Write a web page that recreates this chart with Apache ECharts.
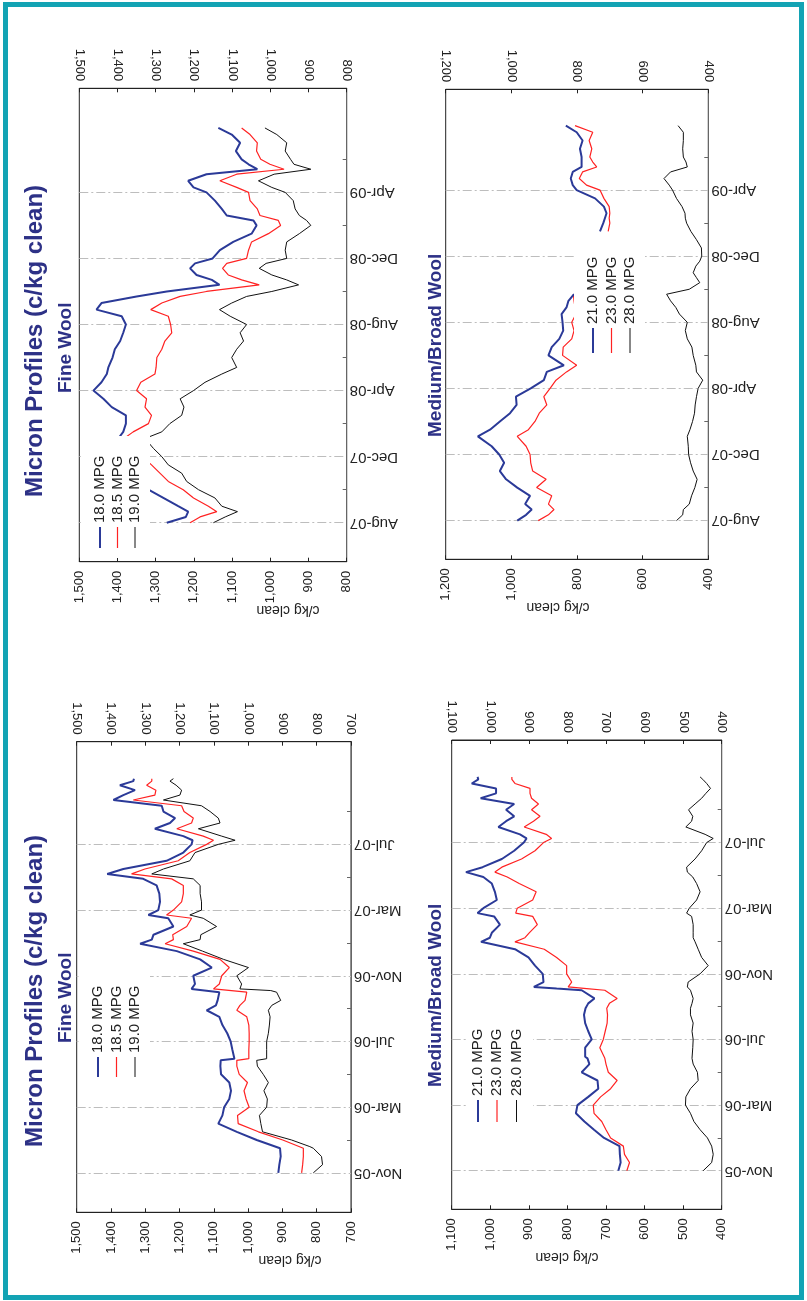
<!DOCTYPE html>
<html>
<head>
<meta charset="utf-8">
<title>Micron Profiles (c/kg clean)</title>
<script src="https://cdn.jsdelivr.net/npm/echarts@6/dist/echarts.min.js"></script>
<style>
  html, body { margin: 0; padding: 0; background: #fff; }
  #chart { width: 807px; height: 1301px; }
</style>
</head>
<body>
<div id="chart"></div>
<script>
// ---- dates: months after the first labelled date of each column ----
const monthsFromNov05 = [0, 0.5, 1, 1.5, 1.6, 2, 2.5, 3, 3.5, 4,
  4.5, 5, 5.5, 6, 6.5, 6.85, 6.95, 7.5, 8, 8.5,
  9, 9.5, 9.9, 10.2, 10.5, 11, 11.1, 11.2, 11.5, 12,
  12.5, 13, 13.5, 13.95, 14.2, 14.5, 15, 15.5, 15.7, 16,
  16.5, 17, 17.5, 17.9, 18.2, 18.5, 19, 19.5, 20, 20.25,
  20.5, 20.95, 21.3, 21.6, 22, 22.35, 22.7, 23, 23.3, 23.6,
  23.85, 24];
const monthsFromAug07 = [0, 0.35, 0.67, 1, 1.5, 2, 2.5, 3, 3.5, 4,
  4.5, 5.1, 5.5, 6, 6.5, 7, 7.5, 8, 8.5, 9,
  9.4, 10, 10.5, 11, 11.5, 12, 12.5, 12.9, 13.3, 13.7,
  14, 14.4, 14.7, 15, 15.4, 15.7, 16, 16.5, 17, 17.5,
  18, 18.3, 18.6, 19, 19.5, 20, 20.3, 20.7, 21.1, 21.4,
  21.7, 22, 22.5, 23, 23.5, 23.9];

const dateLabelsEarly = ['Nov-05', 'Mar-06', 'Jul-06', 'Nov-06', 'Mar-07', 'Jul-07'];
const dateLabelsLate = ['Aug-07', 'Dec-07', 'Apr-08', 'Aug-08', 'Dec-08', 'Apr-09'];

// ---- Fine Wool, Nov-05 to Nov-07 (c/kg clean) ----
const fineEarly180 = [912, 909, 905, 907, 912, 975, 1033, 1087, 1075, 1070,
  1055, 1050, 1055, 1079, 1081, 1080, 1040, 1046, 1051, 1061,
  1075, 1084, 1121, 1094, 1089, 1084, 1082, 1165, 1155, 1160,
  1106, 1140, 1208, 1315, 1281, 1276, 1218, 1233, 1291, 1262,
  1257, 1259, 1267, 1306, 1411, 1364, 1238, 1189, 1165, 1162,
  1189, 1272, 1228, 1213, 1247, 1252, 1393, 1364, 1330, 1374,
  1335, 1333];
const fineEarly185 = [844, 841, 839, 839, 844, 899, 970, 1029, 1031, 997,
  1006, 1012, 1002, 1026, 1033, 1033, 998, 998, 997, 997,
  998, 1004, 1033, 1024, 1009, 1004, 1006, 1101, 1084, 1077,
  1055, 1082, 1160, 1242, 1218, 1220, 1179, 1165, 1238, 1218,
  1194, 1189, 1189, 1223, 1340, 1301, 1204, 1170, 1121, 1101,
  1131, 1208, 1165, 1160, 1187, 1194, 1335, 1272, 1269, 1296,
  1281, 1281];
const fineEarly190 = [810, 783, 786, 810, 820, 873, 958, 963, 967, 946,
  944, 954, 941, 956, 973, 975, 946, 946, 946, 941,
  938, 936, 941, 931, 905, 917, 934, 1024, 1019, 1033,
  999, 1072, 1133, 1189, 1140, 1138, 1092, 1131, 1170, 1136,
  1136, 1140, 1140, 1160, 1281, 1247, 1170, 1155, 1087, 1038,
  1077, 1145, 1082, 1087, 1111, 1136, 1247, 1199, 1194, 1210,
  1228, 1218];

// ---- Medium/Broad Wool, Nov-05 to Nov-07 ----
const medEarly210 = [668, 662, 664, 665, 668, 705, 731, 756, 778, 774,
  746, 720, 722, 763, 743, 748, 754, 754, 737, 746,
  754, 757, 753, 746, 730, 763, 828, 887, 862, 864,
  884, 901, 936, 1024, 1001, 996, 975, 990, 1033, 1018,
  983, 988, 996, 1018, 1063, 1020, 970, 938, 913, 906,
  923, 979, 959, 938, 959, 938, 1025, 985, 985, 1048,
  1031, 1033];
const medEarly230 = [646, 639, 652, 655, 659, 688, 700, 711, 731, 733,
  714, 688, 671, 694, 700, 703, 705, 716, 707, 702,
  697, 696, 698, 691, 671, 703, 750, 798, 789, 802,
  802, 828, 860, 936, 910, 899, 878, 890, 934, 930,
  890, 881, 925, 956, 988, 970, 919, 884, 862, 841,
  855, 912, 888, 871, 893, 875, 893, 897, 897, 936,
  944, 944];
const medEarly280 = [448, 426, 422, 426, 429, 437, 456, 472, 481, 494,
  493, 481, 461, 463, 474, 477, 479, 475, 474, 477,
  474, 481, 481, 477, 474, 481, 484, 489, 487, 456,
  435, 452, 461, 469, 474, 474, 474, 478, 491, 484,
  465, 456, 465, 475, 489, 491, 469, 452, 439, 422,
  443, 493, 478, 475, 486, 469, 452, 441, 429, 439,
  449, 456];

// ---- Fine Wool, Aug-07 to Jul-09 ----
const fineLate180 = [1271, 1221, 1215, 1241, 1280, 1319, null, null, null, null,
  null, 1398, 1385, 1378, 1378, 1415, 1437, 1463, 1442, 1428,
  1424, 1413, 1407, 1393, 1385, 1378, 1389, 1455, 1442, 1350,
  1271, 1133, 1153, 1193, 1210, 1197, 1151, 1132, 1097, 1049,
  1036, 1044, 1114, 1127, 1145, 1167, 1201, 1215, 1167, 1034,
  1057, 1075, 1090, 1079, 1101, 1136];
const fineLate185 = [1210, 1184, 1140, 1162, 1201, 1228, 1267, 1289, 1311, 1335,
  null, 1383, 1359, 1319, 1311, 1328, 1324, 1350, 1339, 1302,
  1299, 1297, 1284, 1276, 1258, 1261, 1267, 1313, 1284, 1236,
  1167, 1029, 1075, 1110, 1125, 1114, 1062, 1057, 1049, 1005,
  973, 979, 1027, 1034, 1053, 1057, 1088, 1132, 1088, 964,
  1001, 1025, 1036, 1034, 1053, 1075];
const fineLate190 = [1149, 1118, 1086, 1127, 1145, 1188, 1219, 1232, 1267, 1284,
  1306, 1328, 1284, 1263, 1232, 1226, 1236, 1201, 1171, 1127,
  1088, 1101, 1088, 1070, 1079, 1062, 1105, 1133, 1101, 1062,
  996, 926, 957, 996, 1029, 1011, 957, 961, 957, 924,
  894, 905, 924, 935, 940, 961, 996, 1031, 990, 894,
  938, 947, 961, 957, 983, 1014];

// ---- Medium/Broad Wool, Aug-07 to Jul-09 ----
const medLate210 = [982, 955, 938, 958, 943, 982, 1016, 1035, 1022, 1037,
  1060, 1102, 1065, 1035, 1004, 984, 986, 941, 901, 892,
  840, 887, 877, 854, 842, 844, 847, 832, 826, 809,
  null, null, null, null, null, null, null, null, null, 730,
  720, 715, 710, 718, 745, 801, 813, 819, 813, 786,
  786, 786, 791, 783, 801, 834];
const medLate230 = [918, 887, 870, 887, 877, 923, 894, 935, 941, 943,
  955, 982, 948, 928, 915, 892, 901, 882, 864, 832,
  801, 844, 842, 816, 809, 816, 803, 806, 809, 811,
  null, null, null, null, null, null, null, null, null, 705,
  700, 702, 700, 702, 718, 730, 771, 793, 783, 740,
  752, 761, 755, 763, 752, 806];
const medLate280 = [497, 478, 476, 458, 451, 441, 434, 446, 454, 460,
  461, 464, 456, 448, 442, 440, 436, 431, 417, 436,
  438, 446, 450, 464, 470, 464, 488, 499, 515, 527,
  458, 426, 436, 446, 438, 426, 420, 421, 436, 453,
  466, 470, 471, 480, 497, 509, 519, 535, 515, 464,
  468, 476, 478, 476, 476, 492];

// ---- styling ----
const FONT = '"Liberation Sans", Arial, Helvetica, sans-serif';
const NAVY = '#2d3186';
const LINE_COLORS = ['#2b3a98', '#ff2222', '#111111'];
const LINE_WIDTHS = [2, 1.2, 1];

const thousands = v => String(v).replace(/\B(?=(\d{3})+(?!\d))/g, ',');

// Each panel: plot box, value range, date range, series and its legend.
const panels = [
  { box: [76.7, 741.7, 274.3, 470.6], xMin: 700, xMax: 1500, xStep: 100,
    yMin: -2.4, yMax: 26.25, months: monthsFromNov05, labels: dateLabelsEarly,
    series: [[fineEarly180, '18.0 MPG'], [fineEarly185, '18.5 MPG'], [fineEarly190, '19.0 MPG']],
    legend: { box: [78.5, 967, 71.5, 120], xs: [98, 116.5, 135], y0: 1077, y1: 1057 },
    unitAt: [290, 1260] },
  { box: [451.7, 740, 270, 469.3], xMin: 400, xMax: 1100, xStep: 100,
    yMin: -2.35, yMax: 26.25, months: monthsFromNov05, labels: dateLabelsEarly,
    series: [[medEarly210, '21.0 MPG'], [medEarly230, '23.0 MPG'], [medEarly280, '28.0 MPG']],
    legend: { box: [467, 1012, 66, 118], xs: [478, 497, 516.5], y0: 1122, y1: 1100 },
    unitAt: [567, 1257] },
  { box: [79.3, 88.3, 267.4, 473.4], xMin: 800, xMax: 1500, xStep: 100,
    yMin: -2.36, yMax: 26.3, months: monthsFromAug07, labels: dateLabelsLate,
    series: [[fineLate180, '18.0 MPG'], [fineLate185, '18.5 MPG'], [fineLate190, '19.0 MPG']],
    legend: { box: [80.8, 436, 69.2, 122], xs: [100, 117.5, 135], y0: 548, y1: 527 },
    unitAt: [288, 610] },
  { box: [445.7, 89.3, 262.6, 470], xMin: 400, xMax: 1200, xStep: 200,
    yMin: -2.34, yMax: 26.1, months: monthsFromAug07, labels: dateLabelsLate,
    series: [[medLate210, '21.0 MPG'], [medLate230, '23.0 MPG'], [medLate280, '28.0 MPG']],
    legend: { box: [574, 233, 71, 128], xs: [593, 611.5, 630], y0: 353, y1: 328 },
    unitAt: [558, 607] }
];

const option = {
  backgroundColor: '#ffffff',
  animation: false,
  grid: [], xAxis: [], yAxis: [], series: [], graphic: []
};

function text(x, y, str, font, rotation, color, align, z) {
  return {
    type: 'text', x: x, y: y, rotation: rotation, z: z || 60, silent: true,
    style: { text: str, font: font, fill: color, textAlign: align, align: align,
             textVerticalAlign: 'middle', verticalAlign: 'middle' }
  };
}

panels.forEach((p, k) => {
  option.grid.push({
    left: p.box[0], top: p.box[1], width: p.box[2], height: p.box[3],
    show: true, borderColor: '#222', borderWidth: 1, backgroundColor: 'transparent',
    containLabel: false, outerBoundsMode: 'none'
  });

  // value axis (horizontal, high values on the left), drawn on both sides
  ['bottom', 'top'].forEach(pos => {
    option.xAxis.push({
      type: 'value', gridIndex: k, position: pos, inverse: true,
      min: p.xMin, max: p.xMax, interval: p.xStep,
      axisLine: { show: true, onZero: false, lineStyle: { color: '#222', width: 1 } },
      axisTick: { show: true, inside: true, length: 4, lineStyle: { color: '#222' } },
      axisLabel: { rotate: 90, margin: pos === 'bottom' ? 9 : 7, fontSize: 13, color: '#222',
                   fontFamily: FONT, showMinLabel: true, showMaxLabel: true, formatter: thousands },
      splitLine: { show: false }
    });
  });

  // date axis (vertical): labels every 4 months, small ticks in between
  const labelAt = p.labels.map((_, i) => i * 4);
  const tickAt = labelAt.map(v => v + 2);
  option.yAxis.push({
    type: 'value', gridIndex: k, position: 'right', min: p.yMin, max: p.yMax,
    axisLine: { show: true, onZero: false, lineStyle: { color: '#666', width: 1 } },
    axisTick: { show: true, inside: true, length: 4, customValues: tickAt, lineStyle: { color: '#666' } },
    axisLabel: { show: true, customValues: labelAt, rotate: 180, margin: 3, fontSize: 15,
                 color: '#222', fontFamily: FONT, formatter: v => p.labels[Math.round(v / 4)] },
    splitLine: { show: false }
  });
  // gridlines at the labelled dates
  option.yAxis.push({
    type: 'value', gridIndex: k, position: 'left', min: p.yMin, max: p.yMax,
    axisLine: { show: false }, axisLabel: { show: false },
    axisTick: { show: false, customValues: labelAt },
    splitLine: { show: true, lineStyle: { color: '#bdbdbd', width: 1, type: [9, 3, 2, 3] } }
  });

  p.series.forEach(([vals, name], j) => {
    option.series.push({
      type: 'line', name: name, xAxisIndex: 2 * k, yAxisIndex: 2 * k,
      data: p.months.map((m, i) => vals[i] == null ? ['-', m] : [vals[i], m]),
      showSymbol: false, symbol: 'none', clip: true, silent: true, z: 4 - j,
      lineStyle: { color: LINE_COLORS[j], width: LINE_WIDTHS[j] }
    });
  });

  // legend: white panel over the plot, short line and rotated label per series
  const lg = p.legend;
  option.graphic.push({ type: 'rect', z: 50, silent: true,
    shape: { x: lg.box[0], y: lg.box[1], width: lg.box[2], height: lg.box[3] },
    style: { fill: '#ffffff' } });
  p.series.forEach(([, name], j) => {
    option.graphic.push({ type: 'line', z: 60, silent: true,
      shape: { x1: lg.xs[j], y1: lg.y0, x2: lg.xs[j], y2: lg.y1 },
      style: { stroke: LINE_COLORS[j], lineWidth: LINE_WIDTHS[j] } });
    option.graphic.push(text(lg.xs[j], lg.y1 - 4, name, '15px ' + FONT, Math.PI / 2, '#222', 'left'));
  });

  // unit label under the value axis
  option.graphic.push(text(p.unitAt[0], p.unitAt[1], 'c/kg clean', '14px ' + FONT, Math.PI, '#222', 'center'));
});

// column titles and chart headings
[0, 650].forEach(dy => {
  option.graphic.push(text(35, 497 + dy, 'Micron Profiles (c/kg clean)', 'bold 24px ' + FONT, Math.PI / 2, NAVY, 'left'));
  option.graphic.push(text(66, 393 + dy, 'Fine Wool', 'bold 19px ' + FONT, Math.PI / 2, NAVY, 'left'));
  option.graphic.push(text(436, 437 + dy, 'Medium/Broad Wool', 'bold 19px ' + FONT, Math.PI / 2, NAVY, 'left'));
});

// page frame
option.graphic.push({ type: 'rect', z: 200, silent: true,
  shape: { x: 5.5, y: 4.5, width: 796, height: 1293 },
  style: { fill: 'transparent', stroke: '#13a3b4', lineWidth: 5 } });

const chart = echarts.init(document.getElementById('chart'), null, { renderer: 'canvas', width: 807, height: 1301 });
chart.setOption(option);
</script>
</body>
</html>
